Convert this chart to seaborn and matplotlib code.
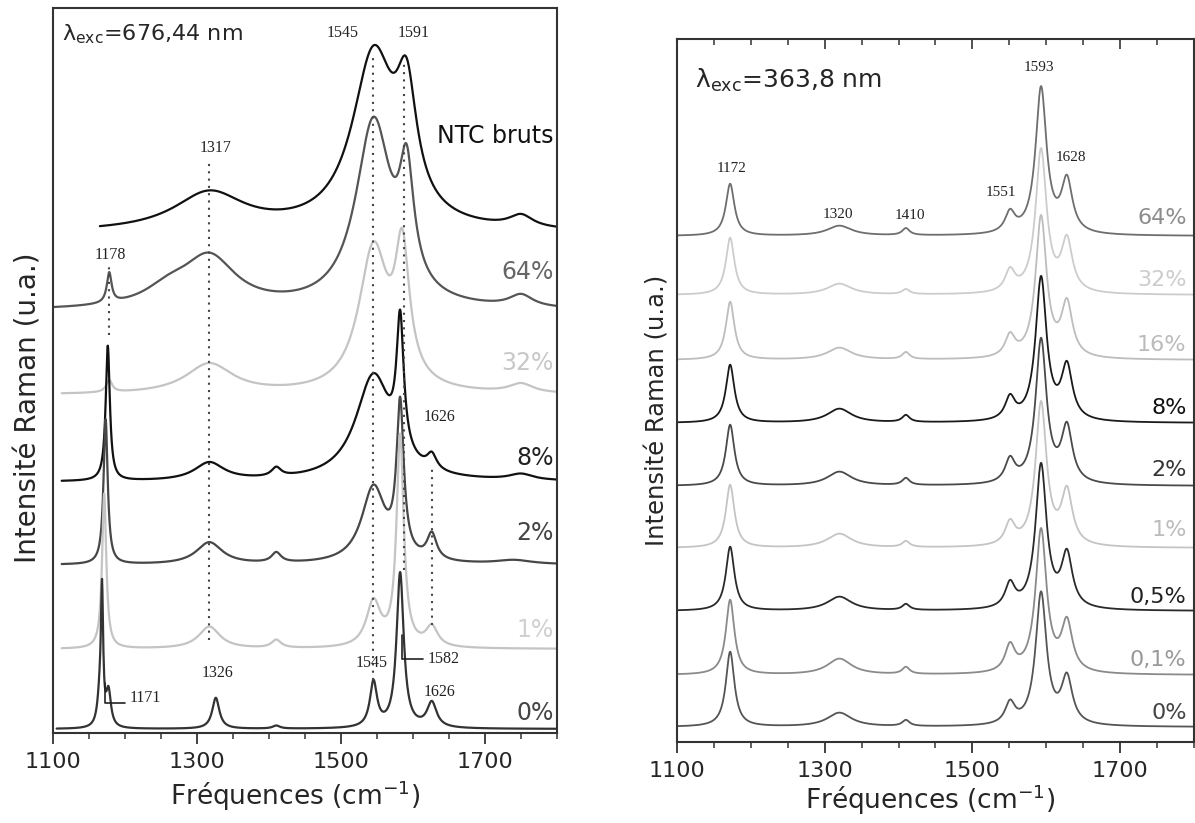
import numpy as np
import pandas as pd
import matplotlib.pyplot as plt
import seaborn as sns

# ---- spectres à 676,44 nm (panneau gauche) ----
noms_g = ['NTC bruts', '64%', '32%', '8%', '2%', '1%', '0%']
couleurs_g = ['#111111', '#555555', '#c4c4c4', '#111111', '#474747', '#c4c4c4', '#333333']
couleurs_txt_g = ['#111111', '#666666', '#c8c8c8', '#222222', '#444444', '#d0d0d0', '#444444']
debut_g = [1165, 1100, 1112, 1112, 1112, 1112, 1105]
# pics : (position cm-1, hauteur, demi-largeur)
pics_g = [
    [(1317, 38, 60), (1545, 172, 36), (1591, 108, 17), (1750, 12, 20)],
    [(1178, 30, 4), (1260, 15, 40), (1317, 50, 45), (1545, 185, 30), (1591, 110, 12), (1750, 12, 20)],
    [(1178, 12, 5), (1317, 30, 40), (1545, 142, 25), (1585, 126, 12), (1750, 9, 20)],
    [(1176, 135, 3.5), (1317, 18, 25), (1410, 9, 8), (1545, 105, 30), (1582, 130, 6), (1626, 15, 8), (1750, 6, 20)],
    [(1173, 145, 3.5), (1317, 22, 22), (1410, 10, 8), (1545, 76, 20), (1582, 150, 6), (1626, 26, 8), (1740, 4, 30)],
    [(1171, 155, 3.5), (1317, 22, 18), (1410, 8, 8), (1545, 45, 12), (1582, 210, 6), (1626, 20, 10)],
    [(1165, 30, 4), (1168, 125, 1.8), (1177, 35, 4), (1326, 31, 6), (1410, 3, 6), (1545, 45, 6), (1582, 155, 6), (1626, 25, 8)],
]
decalage_g = [500, 422, 338, 251, 168, 84, 4]
label_y_g = [597, 461, 370, 275, 200, 103, 20]

# annotations des pics (texte, x, y)
annot_g = [('1317', 1326, 585), ('1545', 1502, 700), ('1591', 1601, 700), ('1178', 1180, 478),
           ('1626', 1637, 316), ('1326', 1329, 60), ('1171', 1228, 35), ('1545', 1543, 70),
           ('1582', 1643, 74), ('1626', 1637, 41)]
pointilles_g = [(1178, 398, 468), (1317, 93, 573), (1545, 53, 678), (1588, 163, 671), (1626, 108, 268)]

# ---- spectres à 363,8 nm (panneau droit) ----
noms_d = ['64%', '32%', '16%', '8%', '2%', '1%', '0,5%', '0,1%', '0%']
couleurs_d = ['#6e6e6e', '#cccccc', '#bdbdbd', '#1a1a1a', '#4a4a4a', '#c4c4c4', '#2a2a2a', '#8a8a8a', '#555555']
couleurs_txt_d = ['#8c8c8c', '#cccccc', '#bbbbbb', '#111111', '#333333', '#bbbbbb', '#222222', '#999999', '#444444']
positions_d = [1172, 1320, 1410, 1551, 1593, 1628]
largeurs_d = [7, 20, 6, 8, 9, 9]
hauteurs_d = [
    [52, 10, 7, 20, 146, 52],
    [57, 11, 5, 21, 143, 51],
    [58, 12, 7, 21, 141, 53],
    [58, 14, 7, 22, 143, 53],
    [61, 14, 7, 23, 144, 55],
    [63, 14, 6, 22, 143, 53],
    [64, 14, 6, 24, 144, 53],
    [75, 16, 7, 26, 143, 49],
    [75, 14, 6, 21, 132, 46],
]
decalage_d = [506, 447, 382, 319, 256, 194, 131, 67, 15]
label_y_d = [524, 462, 397, 334, 272, 212, 145, 82, 29]
annot_d = [('1172', 1174, 574), ('1320', 1318, 528), ('1410', 1415, 527),
           ('1551', 1539, 550), ('1593', 1590, 675), ('1628', 1634, 585)]

freq = np.arange(1100, 1800.5, 0.5)


def spectre(pics, debut, decalage):
    x = freq[freq >= debut]
    y = np.zeros_like(x)
    for c, h, w in pics:
        y += h / (1 + ((x - c) / w) ** 2)
    return pd.DataFrame({'Fréquence': x, 'Intensité': y + decalage})


sns.set_style("white")
plt.rcParams['font.family'] = ['DejaVu Sans']
plt.rcParams['mathtext.fontset'] = 'dejavusans'

fig = plt.figure(figsize=(11.95, 8.23), dpi=100)
ax1 = fig.add_axes([0.0444, 0.1094, 0.4218, 0.8809])
ax2 = fig.add_axes([0.5665, 0.0984, 0.4326, 0.8542])

# panneau gauche
for i, nom in enumerate(noms_g):
    df = spectre(pics_g[i], debut_g[i], decalage_g[i])
    sns.lineplot(data=df, x='Fréquence', y='Intensité', color=couleurs_g[i],
                 lw=1.6, ax=ax1, sort=False)
    ax1.text(1795, label_y_g[i], nom, ha='right', va='center', fontsize=17,
             color=couleurs_txt_g[i])
for x, y0, y1 in pointilles_g:
    ax1.vlines(x, y0, y1, colors='#444444', linestyles=(0, (1, 2.5)), lw=1.5)
for t, x, y in annot_g:
    ax1.text(x, y, t, ha='center', va='center', fontsize=11.5,
             family='Liberation Serif', color='#222222')
ax1.plot([1172, 1172, 1200], [50, 30, 30], color='#222222', lw=1.2)
ax1.plot([1585, 1585, 1614], [98, 74, 74], color='#222222', lw=1.2)
ax1.text(1112, 693, 'λ$_{\\rm exc}$=676,44 nm', fontsize=16, va='baseline')

# panneau droit
for i, nom in enumerate(noms_d):
    pics = list(zip(positions_d, hauteurs_d[i], largeurs_d))
    df = spectre(pics, 1100, decalage_d[i])
    sns.lineplot(data=df, x='Fréquence', y='Intensité', color=couleurs_d[i],
                 lw=1.3, ax=ax2, sort=False)
    ax2.text(1790, label_y_d[i], nom, ha='right', va='center', fontsize=16,
             color=couleurs_txt_d[i])
for t, x, y in annot_d:
    ax2.text(x, y, t, ha='center', va='center', fontsize=11,
             family='Liberation Serif', color='#222222')
ax2.text(1124, 654, 'λ$_{\\rm exc}$=363,8 nm', fontsize=18, va='baseline')

for ax, ylim in ((ax1, 725), (ax2, 703)):
    ax.set_xlim(1100, 1800)
    ax.set_ylim(0, ylim)
    ax.set_yticks([])
    ax.set_xticks([1100, 1300, 1500, 1700])
    ax.set_xticks(np.arange(1100, 1801, 50), minor=True)
    ax.tick_params(axis='x', which='major', direction='out', length=8, width=1.3,
                   labelsize=16, pad=6, color='#333333', bottom=True)
    ax.tick_params(axis='x', which='minor', direction='out', length=4, width=1.1,
                   color='#333333', bottom=True)
    for s in ax.spines.values():
        s.set_color('#333333')
        s.set_linewidth(1.5)
    ax.set_xlabel('Fréquences (cm$^{-1}$)', fontsize=19)

ax1.set_ylabel('Intensité Raman (u.a.)', fontsize=20)
ax2.set_ylabel('Intensité Raman (u.a.)', fontsize=17.5)
ax1.yaxis.set_label_coords(-0.02, 0.448)
ax2.yaxis.set_label_coords(-0.0135, 0.472)
ax1.xaxis.set_label_coords(0.48, -0.063)
ax2.xaxis.set_label_coords(0.489, -0.057)

# graduations du haut (panneau droit)
haut = ax2.secondary_xaxis('top')
haut.set_xticks([1100, 1300, 1500, 1700])
haut.set_xticks(np.arange(1100, 1801, 50), minor=True)
haut.tick_params(axis='x', which='major', direction='in', length=7, width=1.2,
                 labeltop=False, color='#333333')
haut.tick_params(axis='x', which='minor', direction='in', length=4, width=1.1,
                 color='#333333')
haut.spines['top'].set_visible(False)

plt.savefig('out.png', dpi=100)
